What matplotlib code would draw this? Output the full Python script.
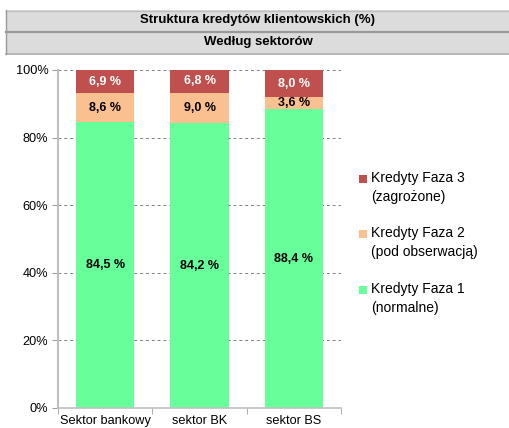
import matplotlib.pyplot as plt
import matplotlib.patches as mpatches
import numpy as np

plt.rcParams['font.family'] = ['Liberation Sans', 'DejaVu Sans']

# Dane: struktura kredytów według sektorów (%)
sektory = ['Sektor bankowy', 'sektor BK', 'sektor BS']
faza1 = [84.5, 84.2, 88.4]
faza2 = [8.6, 9.0, 3.6]
faza3 = [6.9, 6.8, 8.0]
legenda = ['Kredyty Faza 3\n(zagrożone)', 'Kredyty Faza 2\n(pod obserwacją)',
           'Kredyty Faza 1\n(normalne)']

kolor1 = '#66FF99'
kolor2 = '#FAC090'
kolor3 = '#C0504D'

W, H = 510, 428
fig = plt.figure(figsize=(W / 100, H / 100), dpi=100)

# Nagłówki w szarych ramkach
for y0, h, tekst in [(1 - 31 / H, 21 / H, 'Struktura kredytów klientowskich (%)'),
                     (1 - 53 / H, 21 / H, 'Według sektorów')]:
    fig.patches.append(mpatches.Rectangle((6 / W, y0), 1, h, transform=fig.transFigure,
                                          facecolor='#DCDCDC', edgecolor='none'))
    fig.text(0.5 + 3 / W, y0 + h / 2, tekst, ha='center', va='center',
             fontsize=9.5, fontweight='bold')
for y, c, lw in [(1 - 10.5 / H, '#C0C0C0', 1.0), (1 - 32 / H, '#999999', 1.6),
                 (1 - 54 / H, '#AAAAAA', 1.2)]:
    fig.add_artist(plt.Line2D([6 / W, 1], [y, y], transform=fig.transFigure, color=c, lw=lw))
fig.add_artist(plt.Line2D([6.5 / W, 6.5 / W], [1 - 54 / H, 1 - 10 / H],
                          transform=fig.transFigure, color='#999999', lw=1.0))

ax = fig.add_axes([58 / W, 1 - 408 / H, 283 / W, 338 / H])

x = np.arange(len(sektory))
w = 0.62
b1 = ax.bar(x, faza1, w, color=kolor1, zorder=2)
b2 = ax.bar(x, faza2, w, bottom=faza1, color=kolor2, zorder=2)
b3 = ax.bar(x, faza3, w, bottom=np.array(faza1) + np.array(faza2), color=kolor3, zorder=2)

def fmt(v):
    return f'{v:.1f} %'.replace('.', ',')

for bars, vals, kol in [(b1, faza1, 'black'), (b2, faza2, 'black'), (b3, faza3, 'white')]:
    for r, v in zip(bars, vals):
        ax.text(r.get_x() + r.get_width() / 2, r.get_y() + r.get_height() / 2, fmt(v),
                ha='center', va='center', fontsize=9, fontweight='bold', color=kol, zorder=3)

ax.set_xlim(-0.5, 2.5)
ax.set_ylim(0, 100)
ax.set_yticks([0, 20, 40, 60, 80, 100])
ax.set_yticklabels(['0%', '20%', '40%', '60%', '80%', '100%'])
ax.yaxis.grid(True, linestyle=(0, (3, 3)), color='#808080', lw=0.7, zorder=0)
ax.set_xticks(x)
ax.set_xticklabels(sektory)
ax.set_xticks([-0.5, 0.5, 1.5, 2.5], minor=True)
ax.tick_params(axis='x', which='major', length=0, labelsize=9.2, pad=5)
ax.tick_params(axis='x', which='minor', length=4, color='#A0A0A0', direction='out')
ax.tick_params(axis='y', length=4, color='#A0A0A0', labelsize=9.2, pad=3)

for s in ['top', 'right']:
    ax.spines[s].set_visible(False)
ax.spines['left'].set_color('#BFBFBF')
ax.spines['left'].set_linewidth(1.5)
ax.spines['bottom'].set_color('#BFBFBF')
ax.spines['bottom'].set_linewidth(1.2)

# Legenda: kwadrat przy pierwszej linii opisu
for i, (opis, kol) in enumerate(zip(legenda, [kolor3, kolor2, kolor1])):
    yl = 1 - (179 + 55.5 * i) / H
    fig.patches.append(mpatches.Rectangle((359 / W, yl - 4 / H), 8 / W, 8 / H,
                                          transform=fig.transFigure, facecolor=kol,
                                          edgecolor='none'))
    fig.text(371 / W, yl + 8 / H, opis, ha='left', va='top', fontsize=10,
             linespacing=1.45)

fig.savefig('out.png', dpi=100)
